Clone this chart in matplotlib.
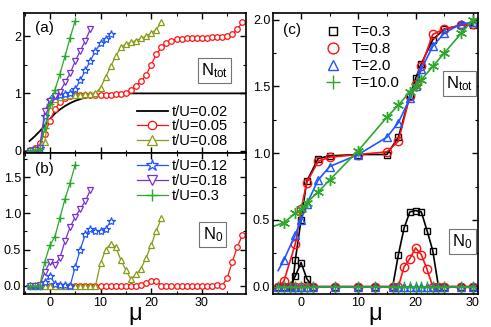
import matplotlib
matplotlib.use('Agg')
import matplotlib.pyplot as plt
from matplotlib.ticker import MultipleLocator

plt.rcParams['font.family'] = ['Liberation Sans', 'DejaVu Sans']
plt.rcParams['mathtext.default'] = 'regular'

# ---- panel (a)/(b) data: t/U series, mu grid step 1 from -4 ----
mu_002 = [-4, -3, -2, -1, 0, 1, 2, 3, 4, 5, 6, 7, 8, 10, 12, 15, 39]
ntot_002 = [0.17, 0.25, 0.34, 0.44, 0.55, 0.65, 0.72, 0.78, 0.83, 0.87, 0.90, 0.93, 0.95, 0.98, 0.99, 1.0, 1.0]

mu_005 = list(range(-4, 39))
ntot_005 = [0.02, 0.05, 0.13, 0.30, 0.52, 0.72, 0.85, 0.92, 0.95, 0.97, 0.98, 0.98, 0.98, 0.98,
            0.98, 0.98, 0.98, 0.99, 0.99, 1.01, 1.06, 1.13, 1.21, 1.32, 1.50, 1.68, 1.80, 1.88,
            1.92, 1.94, 1.95, 1.96, 1.96, 1.97, 1.97, 1.97, 1.98, 1.98, 1.99, 2.00, 2.03, 2.12, 2.24]
n0_005 = [0, 0, 0, 0, 0, 0, 0, 0, 0, 0, 0, 0, 0, 0,
          0, 0, 0, 0, 0, 0, 0, 0, 0.01, 0.04, 0.07, 0.07, 0, 0,
          0, 0, 0, 0, 0, 0, 0, 0, 0, 0.02, 0, 0.11, 0.33, 0.54, 0.70]

mu_008 = list(range(-4, 23))
ntot_008 = [0.0, 0.0, 0.02, 0.15, 0.80, 0.90, 0.94, 0.96, 0.97, 0.98, 0.98, 0.99, 0.99, 1.0,
            1.10, 1.28, 1.47, 1.65, 1.80, 1.86, 1.89, 1.92, 1.96, 2.00, 2.05, 2.11, 2.24]
n0_008 = [0, 0, 0, 0, 0, 0, 0, 0, 0, 0, 0, 0, 0, 0,
          0.31, 0.50, 0.58, 0.54, 0.36, 0.22, 0.09, 0.16, 0.24, 0.39, 0.56, 0.76, 0.93]

mu_012 = list(range(-4, 13))
ntot_012 = [0.0, 0.01, 0.05, 0.60, 0.88, 0.95, 0.97, 0.99, 1.01, 1.07, 1.23, 1.40, 1.57, 1.74, 1.87, 1.95, 2.03]
n0_012 = [0, 0, 0, 0.05, 0.14, 0.03, 0.02, 0.01, 0.0, 0.26, 0.50, 0.71, 0.78, 0.76, 0.75, 0.78, 0.89]

mu_018 = list(range(-4, 9))
ntot_018 = [0.0, 0.01, 0.05, 0.70, 0.87, 0.95, 1.03, 1.19, 1.35, 1.56, 1.74, 1.92, 2.12]
n0_018 = [0, 0, 0.01, 0.19, 0.33, 0.29, 0.39, 0.62, 0.81, 0.95, 1.06, 1.17, 1.32]

mu_03 = list(range(-4, 6))
ntot_03 = [0.0, 0.01, 0.03, 0.40, 0.82, 1.06, 1.34, 1.65, 1.97, 2.27]
n0_03 = [0, 0, 0, 0.33, 0.56, 0.68, 0.94, 1.20, 1.42, 1.67]

# ---- panel (c) data: temperature series ----
mu_t03 = [-1.5, -1, 0, 1, 3, 5, 10, 15, 17, 19, 20, 21, 23, 25, 28, 30]
ntot_t03 = [0.0, 0.20, 0.50, 0.79, 0.96, 0.98, 0.99, 0.99, 1.12, 1.43, 1.56, 1.67, 1.85, 1.93, 1.96, 1.96]
mu_t08 = [-4, -3, -1, 0, 1, 3, 5, 10, 15, 17, 19, 20, 21, 23, 25, 28, 30]
ntot_t08 = [0.0, 0.04, 0.32, 0.58, 0.78, 0.94, 0.97, 0.99, 1.01, 1.09, 1.43, 1.52, 1.65, 1.89, 1.93, 1.96, 1.97]
mu_t2 = [-4, -3, -1, 0, 1, 3, 5, 10, 15, 17, 19, 20, 21, 23, 25, 28, 30]
ntot_t2 = [0.12, 0.20, 0.39, 0.50, 0.62, 0.80, 0.90, 0.99, 1.12, 1.23, 1.41, 1.50, 1.63, 1.80, 1.90, 1.97, 1.98]
mu_t10 = [-4.9, -3, -1, 0, 1, 3, 5, 10, 15, 17, 19, 20, 21, 23, 25, 28, 30]
ntot_t10 = [0.45, 0.48, 0.55, 0.58, 0.63, 0.71, 0.80, 1.02, 1.27, 1.36, 1.46, 1.50, 1.55, 1.65, 1.75, 1.90, 2.00]

mu_n0 = [-4, -3, -2, -1, 0, 1, 2, 6, 10, 13, 16, 17, 18, 19, 20, 21, 22, 23, 24, 25, 28, 30]
n0_t03 = [0, 0, 0, 0.08, 0.18, 0.06, 0, 0, 0, 0, 0, 0.24, 0.44, 0.56, 0.57, 0.56, 0.42, 0.27, 0, 0, 0, 0]
n0_t08 = [0, 0, 0, 0, 0, 0, 0, 0, 0, 0, 0, 0, 0.15, 0.21, 0.29, 0.24, 0.13, 0, 0, 0, 0, 0]
n0_t2 = [0] * 22
n0_t10 = [0] * 22

red = '#ff1010'
olive = '#8a9a14'
blue = '#2255ff'
purple = '#7a2fd6'
green = '#2aa82a'

fig = plt.figure(figsize=(4.91, 3.27), dpi=100)
axa = fig.add_axes([0.0489, 0.532, 0.452, 0.428])
axb = fig.add_axes([0.0489, 0.101, 0.452, 0.431])
axc = fig.add_axes([0.556, 0.101, 0.4175, 0.859])

kw = dict(lw=0.9, mew=0.9, mfc='white')
# (a) N_tot
axa.plot(mu_002, ntot_002, color='k', lw=1.3, label='t/U=0.02')
axa.plot(mu_005, ntot_005, color=red, marker='o', ms=4, label='t/U=0.05', **kw)
axa.plot(mu_008, ntot_008, color=olive, marker='^', ms=4.5, label='t/U=0.08', **kw)
axa.plot(mu_012, ntot_012, color=blue, marker='*', ms=6, **kw)
axa.plot(mu_018, ntot_018, color=purple, marker='v', ms=4.5, **kw)
axa.plot(mu_03, ntot_03, color=green, marker='+', ms=6, lw=0.9, mew=1.0)

# (b) N_0
axb.plot(mu_005, n0_005, color=red, marker='o', ms=4, **kw)
axb.plot(mu_008, n0_008, color=olive, marker='^', ms=4.5, **kw)
axb.plot(mu_012, n0_012, color=blue, marker='*', ms=6, label='t/U=0.12', **kw)
axb.plot(mu_018, n0_018, color=purple, marker='v', ms=4.5, label='t/U=0.18', **kw)
axb.plot(mu_03, n0_03, color=green, marker='+', ms=6, lw=0.9, mew=1.0, label='t/U=0.3')

# (c)
kc = dict(lw=1.2, mew=1.0, mfc='none')
axc.plot(mu_t03, ntot_t03, color='k', marker='s', ms=4.5, **kc)
axc.plot(mu_t08, ntot_t08, color=red, marker='o', ms=6, markevery=list(range(1, 17)), **kc)
axc.plot(mu_t2, ntot_t2, color=blue, marker='^', ms=6, markevery=list(range(1, 17)), **kc)
axc.plot(mu_t10, ntot_t10, color=green, marker=(6, 2, 0), ms=8, markevery=list(range(1, 17)), **kc)
axc.plot(mu_n0, n0_t03, color='k', marker='s', ms=4.5, label='T=0.3', **kc)
axc.plot(mu_n0, n0_t08, color=red, marker='o', ms=6, label='T=0.8', **kc)
axc.plot(mu_n0, n0_t2, color=blue, marker='^', ms=6, label='T=2.0', **kc)
axc.plot(mu_n0, n0_t10, color=green, marker='+', ms=8, label='T=10.0', **kc)

for ax in (axa, axb):
    ax.set_xlim(-5.1, 38.7)
    ax.xaxis.set_major_locator(MultipleLocator(10))
    ax.xaxis.set_minor_locator(MultipleLocator(5))
axa.set_ylim(-0.04, 2.4)
axa.yaxis.set_major_locator(MultipleLocator(1))
axa.yaxis.set_minor_locator(MultipleLocator(0.5))
axa.tick_params(labelbottom=False)
axb.set_ylim(-0.11, 1.83)
axb.yaxis.set_major_locator(MultipleLocator(0.5))
axb.yaxis.set_minor_locator(MultipleLocator(0.25))
axb.yaxis.set_major_formatter('{x:.1f}')

axc.set_xlim(-4.9, 30.9)
axc.set_ylim(-0.055, 2.05)
axc.xaxis.set_major_locator(MultipleLocator(10))
axc.xaxis.set_minor_locator(MultipleLocator(5))
axc.yaxis.set_major_locator(MultipleLocator(0.5))
axc.yaxis.set_minor_locator(MultipleLocator(0.25))
axc.yaxis.set_major_formatter('{x:.1f}')

for ax in (axa, axb, axc):
    ax.tick_params(which='both', direction='in', top=True, right=True, labelsize=9, pad=2)
    ax.tick_params(which='major', length=4, width=1)
    ax.tick_params(which='minor', length=2.5, width=0.8)
    for s in ax.spines.values():
        s.set_linewidth(1.2)

axb.set_xlabel('μ', fontsize=17, labelpad=-4)
axc.set_xlabel('μ', fontsize=17, labelpad=-4)

axa.text(0.05, 0.945, '(a)', transform=axa.transAxes, fontsize=11, va='top')
axb.text(0.05, 0.935, '(b)', transform=axb.transAxes, fontsize=11, va='top')
axc.text(0.05, 0.965, '(c)', transform=axc.transAxes, fontsize=11, va='top')

box = dict(boxstyle='square,pad=0.2', fc='white', ec='0.45', lw=0.8)
axa.text(0.858, 0.589, '$N_{tot}$', transform=axa.transAxes, fontsize=12, ha='center', va='center', bbox=box)
axb.text(0.851, 0.422, '$N_0$', transform=axb.transAxes, fontsize=12, ha='center', va='center', bbox=box)
axc.text(0.91, 0.749, '$N_{tot}$', transform=axc.transAxes, fontsize=12, ha='center', va='center', bbox=box)
axc.text(0.924, 0.187, '$N_0$', transform=axc.transAxes, fontsize=12, ha='center', va='center', bbox=box)

lkw = dict(frameon=False, fontsize=10.5, handlelength=2.1, handletextpad=0.3, labelspacing=0.05,
           borderpad=0, borderaxespad=0, markerscale=1.5, loc='center left')
axa.legend(bbox_to_anchor=(0.509, 0.19), **lkw)
axb.legend(bbox_to_anchor=(0.509, 0.80), **lkw)
axc.legend(bbox_to_anchor=(0.255, 0.842), frameon=False, fontsize=11, handlelength=1.0,
           handletextpad=0.7, labelspacing=0.2, borderpad=0, borderaxespad=0,
           markerscale=1.3, loc='center left')
for h in axc.get_legend().legend_handles:
    h.set_linestyle('none')

plt.savefig('out.png', dpi=100)
